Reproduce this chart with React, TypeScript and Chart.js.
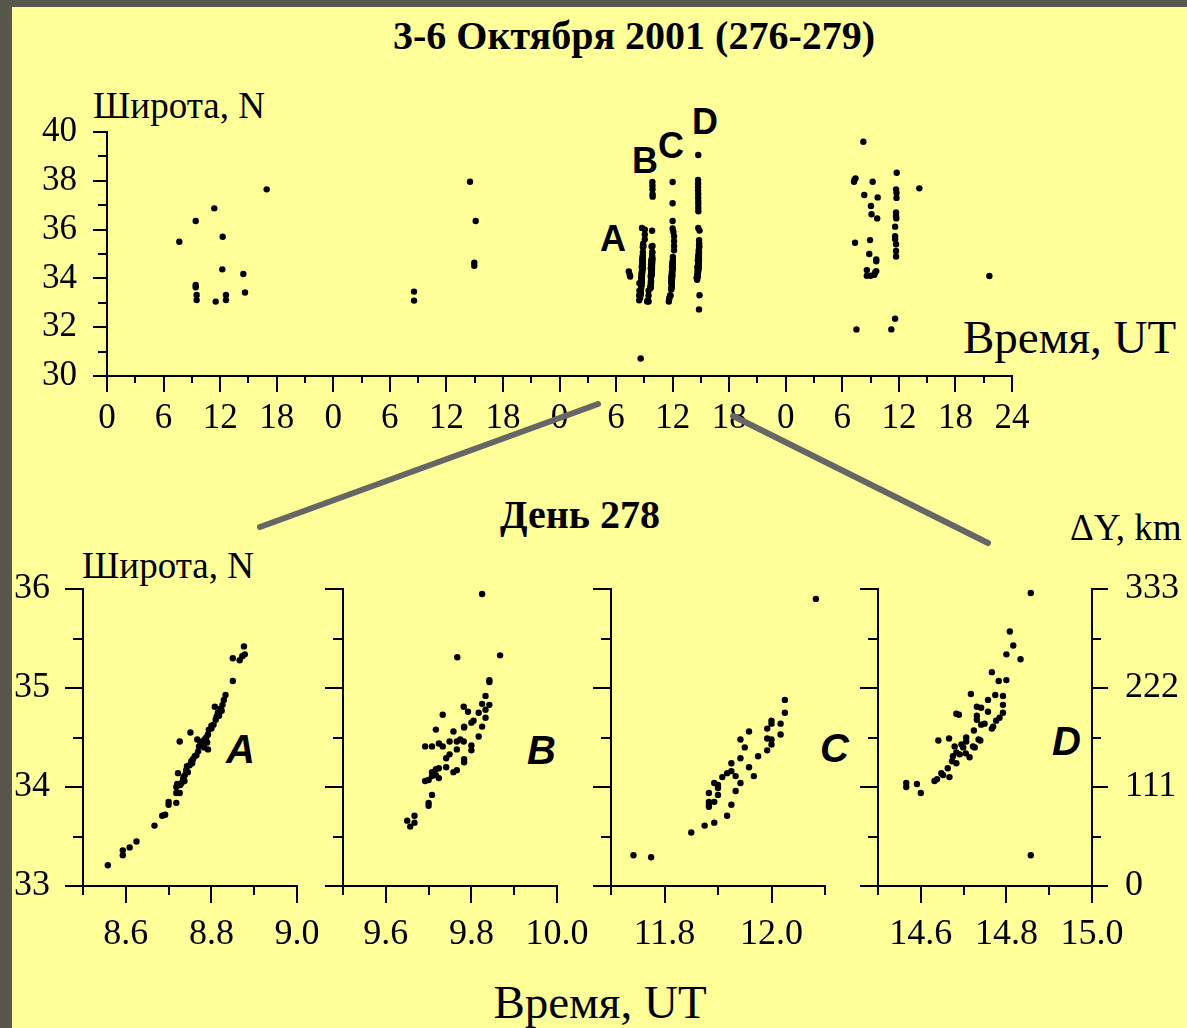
import React, { useEffect, useRef } from 'react';
import { Chart, registerables } from 'chart.js';

Chart.register(...registerables);

const SERIF = "'Liberation Serif', 'Times New Roman', serif";
const SANS = "'Liberation Sans', Arial, sans-serif";
Chart.defaults.font.family = SERIF;

// ---- Overview (hours since 00 UT, 3 Oct 2001 = day 276), latitude N ----
const day276: number[][] = [
  [7.67, 35.5], [9.41, 36.35], [11.38, 36.87], [12.27, 35.71], [16.94, 37.65],
  [12.23, 34.37], [14.46, 34.18], [14.64, 33.42], [9.41, 33.73], [9.41, 33.64],
  [9.51, 33.32], [9.51, 33.11], [11.53, 33.05], [12.62, 33.32], [12.62, 33.11],
];
const day277: number[][] = [
  [32.57, 33.46], [32.57, 33.09], [38.51, 37.96], [39.11, 36.35], [38.96, 34.64], [38.96, 34.52],
];
// day 278 points (hour of day) not visible in the zoomed panels
const day278Extra: number[][] = [
  [7.35, 34.28], [7.45, 34.15], [7.5, 34.08], [8.61, 30.72],
  [8.45, 33.1], [8.45, 33.3], [8.48, 33.5], [8.48, 33.8], [8.75, 36.07],
  [9.05, 35.6], [9.05, 35.8], [9.05, 36.0],
  [9.85, 37.95], [9.86, 37.8], [9.86, 37.65], [9.87, 37.45], [9.88, 37.35],
  [9.3, 33.05], [9.4, 33.1], [9.45, 33.05], [9.35, 33.1], [9.45, 33.3], [9.45, 33.5],
  [12.0, 37.95], [12.0, 37.08], [12.0, 36.35], [12.0, 36.05],
  [12.15, 35.73], [12.15, 35.52], [12.15, 35.33], [12.15, 35.15],
  [11.6, 33.05], [11.62, 33.12], [11.65, 33.2],
  [14.72, 39.06], [14.7, 38.03], [14.7, 37.88], [14.7, 37.74], [14.7, 37.6], [14.71, 37.46],
  [14.71, 37.32], [14.72, 37.17], [14.72, 37.05], [14.72, 36.9], [14.73, 36.75], [14.72, 36.07],
  [14.8, 32.73],
];
const day279: number[][] = [
  [80.23, 39.6], [79.24, 37.96], [79.3, 38.05], [79.4, 38.1], [81.22, 37.96], [83.77, 38.33],
  [86.17, 37.69], [83.7, 37.65], [83.75, 37.5], [83.75, 37.3], [80.33, 37.42], [81.75, 37.32],
  [81.04, 36.97], [81.1, 36.63], [81.7, 36.46], [83.7, 36.7], [83.7, 36.55], [83.72, 36.46],
  [83.6, 36.12], [83.6, 35.73], [83.6, 35.61], [83.7, 35.4], [79.35, 35.46], [80.94, 35.57],
  [80.86, 35.0], [81.6, 34.78], [81.6, 34.7], [80.6, 34.34], [80.6, 34.11], [81.0, 34.11],
  [81.4, 34.15], [81.5, 34.25], [81.6, 34.3], [83.7, 35.12], [83.7, 34.9], [93.6, 34.1],
  [79.5, 31.91], [83.2, 31.91], [83.6, 32.35],
];

// ---- Day 278 panels: hour UT, latitude N ----
const panelA: number[][] = [
  [8.558, 33.21], [8.593, 33.36], [8.593, 33.31], [8.609, 33.39], [8.625, 33.45], [8.667, 33.61],
  [8.685, 33.71], [8.692, 33.72], [8.7, 33.85], [8.7, 33.82], [8.718, 33.84], [8.718, 33.94],
  [8.718, 34.0], [8.72, 34.03], [8.722, 34.14], [8.726, 34.46], [8.726, 33.94], [8.73, 34.04],
  [8.734, 34.08], [8.738, 34.12], [8.741, 34.17], [8.743, 34.21], [8.749, 34.22], [8.751, 34.55],
  [8.753, 34.26], [8.757, 34.28], [8.761, 34.31], [8.765, 34.32], [8.767, 34.48], [8.769, 34.36],
  [8.771, 34.41], [8.775, 34.44], [8.779, 34.46], [8.784, 34.48], [8.788, 34.5], [8.792, 34.38],
  [8.792, 34.53], [8.794, 34.58], [8.8, 34.59], [8.805, 34.63], [8.808, 34.81], [8.812, 34.71],
  [8.815, 34.75], [8.821, 34.79], [8.826, 34.83], [8.829, 34.88], [8.833, 34.93], [8.85, 35.07],
  [8.85, 35.3], [8.866, 35.28], [8.872, 35.32], [8.878, 35.34], [8.876, 35.42],
  [8.735, 34.1], [8.745, 34.15], [8.755, 34.24], [8.783, 34.4], [8.79, 34.45], [8.8, 34.62],
  [8.81, 34.68], [8.818, 34.72], [8.824, 34.77], [8.727, 34.02], [8.737, 34.06],
];
const panelB: number[][] = [
  [9.825, 35.95], [9.767, 35.31], [9.867, 35.33], [9.842, 35.08], [9.842, 35.06], [9.833, 34.92],
  [9.825, 34.84], [9.842, 34.83], [9.782, 34.81], [9.792, 34.76], [9.817, 34.75], [9.833, 34.78],
  [9.733, 34.73], [9.805, 34.67], [9.8, 34.65], [9.783, 34.61], [9.833, 34.7], [9.825, 34.61],
  [9.817, 34.51], [9.717, 34.58], [9.758, 34.56], [9.783, 34.6], [9.774, 34.48], [9.782, 34.46],
  [9.749, 34.46], [9.766, 34.46], [9.724, 34.44], [9.733, 34.41], [9.692, 34.41], [9.708, 34.41],
  [9.8, 34.42], [9.8, 34.37], [9.766, 34.38], [9.749, 34.33], [9.741, 34.29], [9.783, 34.28],
  [9.783, 34.25], [9.741, 34.2], [9.766, 34.17], [9.758, 34.15], [9.724, 34.19], [9.717, 34.18],
  [9.708, 34.15], [9.717, 34.12], [9.724, 34.09], [9.708, 34.11], [9.7, 34.07], [9.692, 34.06],
  [9.708, 33.92], [9.7, 33.84], [9.7, 33.81], [9.65, 33.66], [9.667, 33.71], [9.667, 33.64],
  [9.657, 33.6],
];
const panelC: number[][] = [
  [12.083, 35.9], [11.742, 33.31], [11.775, 33.29], [11.85, 33.54], [11.875, 33.61], [11.893, 33.64],
  [11.917, 33.71], [11.925, 33.82], [11.883, 33.8], [11.883, 33.82], [11.883, 33.85], [11.893, 33.85],
  [11.883, 33.94], [11.893, 34.04], [11.9, 33.99], [11.9, 33.92], [11.9, 34.02], [11.933, 33.96],
  [11.908, 34.1], [11.917, 34.14], [11.925, 34.16], [11.925, 34.24], [11.933, 34.11], [11.942, 34.04],
  [11.942, 34.29], [11.958, 34.2], [11.967, 34.11], [11.942, 34.48], [11.95, 34.4], [11.958, 34.56],
  [11.975, 34.31], [11.992, 34.37], [11.992, 34.49], [11.992, 34.59], [12.0, 34.67], [12.0, 34.64],
  [12.0, 34.48], [12.0, 34.43], [12.017, 34.64], [12.017, 34.53], [12.025, 34.75], [12.025, 34.88],
];
const panelD: number[][] = [
  [14.857, 35.96], [14.857, 33.31], [14.808, 35.57], [14.816, 35.43], [14.8, 35.34], [14.833, 35.29],
  [14.766, 35.16], [14.782, 35.07], [14.8, 35.08], [14.717, 34.94], [14.774, 34.93], [14.792, 34.92],
  [14.792, 34.83], [14.792, 34.75], [14.757, 34.88], [14.757, 34.76], [14.731, 34.81], [14.741, 34.8],
  [14.683, 34.74], [14.689, 34.73], [14.731, 34.72], [14.731, 34.68], [14.749, 34.64], [14.741, 34.63],
  [14.784, 34.7], [14.776, 34.67], [14.769, 34.61], [14.766, 34.59], [14.724, 34.57], [14.735, 34.48],
  [14.739, 34.47], [14.726, 34.4], [14.722, 34.41], [14.706, 34.5], [14.706, 34.46], [14.641, 34.47],
  [14.666, 34.49], [14.679, 34.41], [14.695, 34.43], [14.683, 34.35], [14.699, 34.4], [14.675, 34.31],
  [14.691, 34.33], [14.705, 34.34], [14.714, 34.3], [14.673, 34.26], [14.683, 34.24], [14.663, 34.19],
  [14.667, 34.1], [14.652, 34.12], [14.648, 34.14], [14.632, 34.06], [14.638, 34.08], [14.566, 34.04],
  [14.566, 34.0], [14.591, 34.03], [14.6, 33.94],
];

// ---- Ticks ----
const topXTicks = [0, 6, 12, 18, 24, 30, 36, 42, 48, 54, 60, 66, 72, 78, 84, 90, 96];
const topXLabels = ['0', '6', '12', '18', '0', '6', '12', '18', '0', '6', '12', '18', '0', '6', '12', '18', '24'];
const topYTicks = [30, 32, 34, 36, 38, 40];
const latTicks = [33, 34, 35, 36];
const dyTicks = [0, 111, 222, 333];
const panelXTicksA = [8.6, 8.8, 9.0];
const panelXTicksB = [9.6, 9.8, 10.0];
const panelXTicksC = [11.8, 12.0];
const panelXTicksD = [14.6, 14.8, 15.0];

const W = 1187;
const H = 1028;

type TickItem = { scale: string; side: 'bottom' | 'left' | 'right'; values: number[]; len: number };

function tickPlugin(items: TickItem[]) {
  return {
    id: 'axisTicks',
    afterDraw(chart: any) {
      const ctx = chart.ctx;
      const a = chart.chartArea;
      ctx.save();
      ctx.strokeStyle = '#000';
      ctx.lineWidth = 2;
      for (const t of items) {
        const s = chart.scales[t.scale];
        for (const v of t.values) {
          const p = Math.round(s.getPixelForValue(v));
          ctx.beginPath();
          if (t.side === 'bottom') {
            ctx.moveTo(p, a.bottom);
            ctx.lineTo(p, a.bottom + t.len);
          } else if (t.side === 'left') {
            ctx.moveTo(a.left - t.len, p);
            ctx.lineTo(a.left, p);
          } else {
            ctx.moveTo(a.right, p);
            ctx.lineTo(a.right + t.len, p);
          }
          ctx.stroke();
        }
      }
      ctx.restore();
    },
  };
}

const connectorPlugin = {
  id: 'connectors',
  afterDraw(chart: any) {
    const ctx = chart.ctx;
    ctx.save();
    ctx.strokeStyle = '#666666';
    ctx.lineWidth = 6;
    ctx.lineCap = 'round';
    ctx.beginPath();
    ctx.moveTo(598, 404);
    ctx.lineTo(260, 527);
    ctx.moveTo(733, 416);
    ctx.lineTo(988, 543);
    ctx.stroke();
    ctx.restore();
  },
};

function fitAxis(width?: number, height?: number) {
  return (s: any) => {
    if (width !== undefined) s.width = width;
    if (height !== undefined) s.height = height;
    s.paddingTop = 0;
    s.paddingBottom = 0;
    s.paddingLeft = 0;
    s.paddingRight = 0;
  };
}

function setTicks(values: number[]) {
  return (s: any) => {
    s.ticks = values.map((v) => ({ value: v }));
  };
}

const border = { display: true, color: '#000', width: 2 };
const noGrid = { display: false, drawTicks: false };

function toXY(arr: number[][], shift = 0) {
  return arr.map(([x, y]) => ({ x: x + shift, y }));
}

function odd(from: number, to: number, step: number) {
  const out: number[] = [];
  for (let v = from; v <= to + 1e-9; v += step) out.push(Math.round(v * 1000) / 1000);
  return out;
}

function topConfig(): any {
  const data = [
    ...toXY(day276),
    ...toXY(day277),
    ...toXY(day278Extra, 48),
    ...toXY(panelA, 48),
    ...toXY(panelB, 48),
    ...toXY(panelC, 48),
    ...toXY(panelD, 48),
    ...toXY(day279),
  ];
  const L = 107, R = 1012, T = 132, B = 376;
  const YW = 100;
  return {
    type: 'scatter',
    data: {
      datasets: [{ data, pointRadius: 3.2, pointBackgroundColor: '#000', pointBorderWidth: 0, clip: false }],
    },
    options: {
      animation: false,
      responsive: false,
      events: [],
      layout: { padding: { left: L - YW, right: W - R, top: T, bottom: H - B - 60 } },
      plugins: { legend: { display: false }, tooltip: { enabled: false } },
      scales: {
        x: {
          type: 'linear', min: 0, max: 96,
          afterBuildTicks: setTicks(topXTicks), afterFit: fitAxis(undefined, 60),
          grid: noGrid, border,
          ticks: {
            autoSkip: false, maxRotation: 0, padding: 22, color: '#000',
            font: { family: SERIF, size: 35 },
            callback: (_v: any, i: number) => topXLabels[i],
          },
        },
        y: {
          type: 'linear', min: 30, max: 40,
          afterBuildTicks: setTicks(topYTicks), afterFit: fitAxis(YW),
          grid: noGrid, border,
          ticks: { padding: 30, color: '#000', font: { family: SERIF, size: 35 } },
        },
      },
    },
    plugins: [
      tickPlugin([
        { scale: 'y', side: 'left', values: topYTicks, len: 14 },
        { scale: 'y', side: 'left', values: odd(31, 39, 2), len: 9 },
        { scale: 'x', side: 'bottom', values: topXTicks, len: 16 },
        { scale: 'x', side: 'bottom', values: odd(3, 93, 6), len: 7 },
      ]),
      connectorPlugin,
    ],
  };
}

type PanelSpec = {
  pts: number[][];
  xMin: number; xMax: number;
  xTicks: number[]; xMinor: number[];
  L: number; R: number;
  leftLabels: boolean; right: boolean;
};

function panelConfig(p: PanelSpec): any {
  const T = 589, B = 886;
  const YW = 80;
  const RW = W - p.R;
  const scales: any = {
    x: {
      type: 'linear', min: p.xMin, max: p.xMax,
      afterBuildTicks: setTicks(p.xTicks), afterFit: fitAxis(undefined, 60),
      grid: noGrid, border,
      ticks: {
        autoSkip: false, maxRotation: 0, padding: 27, color: '#000',
        font: { family: SERIF, size: 36 },
        callback: (v: any) => Number(v).toFixed(1),
      },
    },
    y: {
      type: 'linear', min: 33, max: 36,
      afterBuildTicks: setTicks(latTicks), afterFit: fitAxis(YW),
      grid: noGrid, border,
      ticks: { display: p.leftLabels, padding: 33, color: '#000', font: { family: SERIF, size: 36 } },
    },
  };
  const items: TickItem[] = [
    { scale: 'y', side: 'left', values: latTicks, len: 18 },
    { scale: 'y', side: 'left', values: [33.5, 34.5, 35.5], len: 10 },
    { scale: 'x', side: 'bottom', values: p.xTicks, len: 17 },
    { scale: 'x', side: 'bottom', values: p.xMinor, len: 9 },
  ];
  if (p.right) {
    scales.y2 = {
      type: 'linear', position: 'right', min: 0, max: 333,
      afterBuildTicks: setTicks(dyTicks), afterFit: fitAxis(RW),
      grid: noGrid, border,
      ticks: { padding: 33, color: '#000', font: { family: SERIF, size: 36 } },
    };
    items.push({ scale: 'y2', side: 'right', values: dyTicks, len: 16 });
    items.push({ scale: 'y2', side: 'right', values: [55.5, 166.5, 277.5], len: 9 });
  }
  return {
    type: 'scatter',
    data: {
      datasets: [{ data: toXY(p.pts), pointRadius: 3.2, pointBackgroundColor: '#000', pointBorderWidth: 0, clip: false }],
    },
    options: {
      animation: false,
      responsive: false,
      events: [],
      layout: { padding: { left: p.L - YW, right: p.right ? 0 : W - p.R, top: T, bottom: H - B - 60 } },
      plugins: { legend: { display: false }, tooltip: { enabled: false } },
      scales,
    },
    plugins: [tickPlugin(items)],
  };
}

const panels: PanelSpec[] = [
  { pts: panelA, xMin: 8.5, xMax: 9.0, xTicks: panelXTicksA, xMinor: [8.5, 8.7, 8.9], L: 83, R: 297, leftLabels: true, right: false },
  { pts: panelB, xMin: 9.5, xMax: 10.0, xTicks: panelXTicksB, xMinor: [9.5, 9.7, 9.9], L: 343, R: 557, leftLabels: false, right: false },
  { pts: panelC, xMin: 11.7, xMax: 12.1, xTicks: panelXTicksC, xMinor: [11.7, 11.9, 12.1], L: 611, R: 825, leftLabels: false, right: false },
  { pts: panelD, xMin: 14.5, xMax: 15.0, xTicks: panelXTicksD, xMinor: [14.5, 14.7, 14.9], L: 878, R: 1092, leftLabels: false, right: true },
];

type TxtProps = {
  x: number; base: number; size: number; text: string;
  bold?: boolean; italic?: boolean; sans?: boolean; center?: boolean;
};

function Txt({ x, base, size, text, bold, italic, sans, center }: TxtProps) {
  const k = sans ? 0.8465 : 0.8375;
  const style: React.CSSProperties = {
    position: 'absolute',
    top: base - k * size,
    fontFamily: sans ? SANS : SERIF,
    fontSize: size,
    lineHeight: `${size}px`,
    fontWeight: bold ? 700 : 400,
    fontStyle: italic ? 'italic' : 'normal',
    whiteSpace: 'nowrap',
    color: '#000',
  };
  if (center) {
    style.left = x - 400;
    style.width = 800;
    style.textAlign = 'center';
  } else {
    style.left = x;
  }
  return <div style={style}>{text}</div>;
}

export default function App() {
  const r0 = useRef<HTMLCanvasElement>(null);
  const r1 = useRef<HTMLCanvasElement>(null);
  const r2 = useRef<HTMLCanvasElement>(null);
  const r3 = useRef<HTMLCanvasElement>(null);
  const r4 = useRef<HTMLCanvasElement>(null);

  useEffect(() => {
    const charts: Chart[] = [];
    charts.push(new Chart(r0.current as HTMLCanvasElement, topConfig()));
    const refs = [r1, r2, r3, r4];
    panels.forEach((p, i) => {
      charts.push(new Chart(refs[i].current as HTMLCanvasElement, panelConfig(p)));
    });
    return () => charts.forEach((c) => c.destroy());
  }, []);

  const cv: React.CSSProperties = { position: 'absolute', left: 0, top: 0, width: W, height: H };

  return (
    <div style={{ position: 'fixed', left: 0, top: 0, width: W, height: H, background: '#57574c', overflow: 'hidden' }}>
      <div style={{ position: 'absolute', left: 12, top: 7, right: 0, bottom: 0, background: '#ffff99' }} />
      <Txt x={634} base={49} size={40} bold center text="3-6 Октября 2001 (276-279)" />
      <Txt x={93} base={118} size={37} text="Широта, N" />
      <Txt x={963} base={353} size={47} text="Время, UT" />
      <Txt x={600} base={251} size={36} bold sans text="A" />
      <Txt x={632} base={173} size={36} bold sans text="B" />
      <Txt x={658} base={158} size={36} bold sans text="C" />
      <Txt x={692} base={134} size={36} bold sans text="D" />
      <Txt x={580} base={528} size={40} bold center text="День 278" />
      <Txt x={82} base={578} size={37} text="Широта, N" />
      <Txt x={1070} base={540} size={37} text="ΔY, km" />
      <Txt x={226} base={763} size={40} bold italic sans text="A" />
      <Txt x={527} base={764} size={40} bold italic sans text="B" />
      <Txt x={820} base={762} size={40} bold italic sans text="C" />
      <Txt x={1052} base={755} size={40} bold italic sans text="D" />
      <Txt x={600} base={1018} size={47} center text="Время, UT" />
      <canvas ref={r0} width={W} height={H} style={cv} />
      <canvas ref={r1} width={W} height={H} style={cv} />
      <canvas ref={r2} width={W} height={H} style={cv} />
      <canvas ref={r3} width={W} height={H} style={cv} />
      <canvas ref={r4} width={W} height={H} style={cv} />
    </div>
  );
}
